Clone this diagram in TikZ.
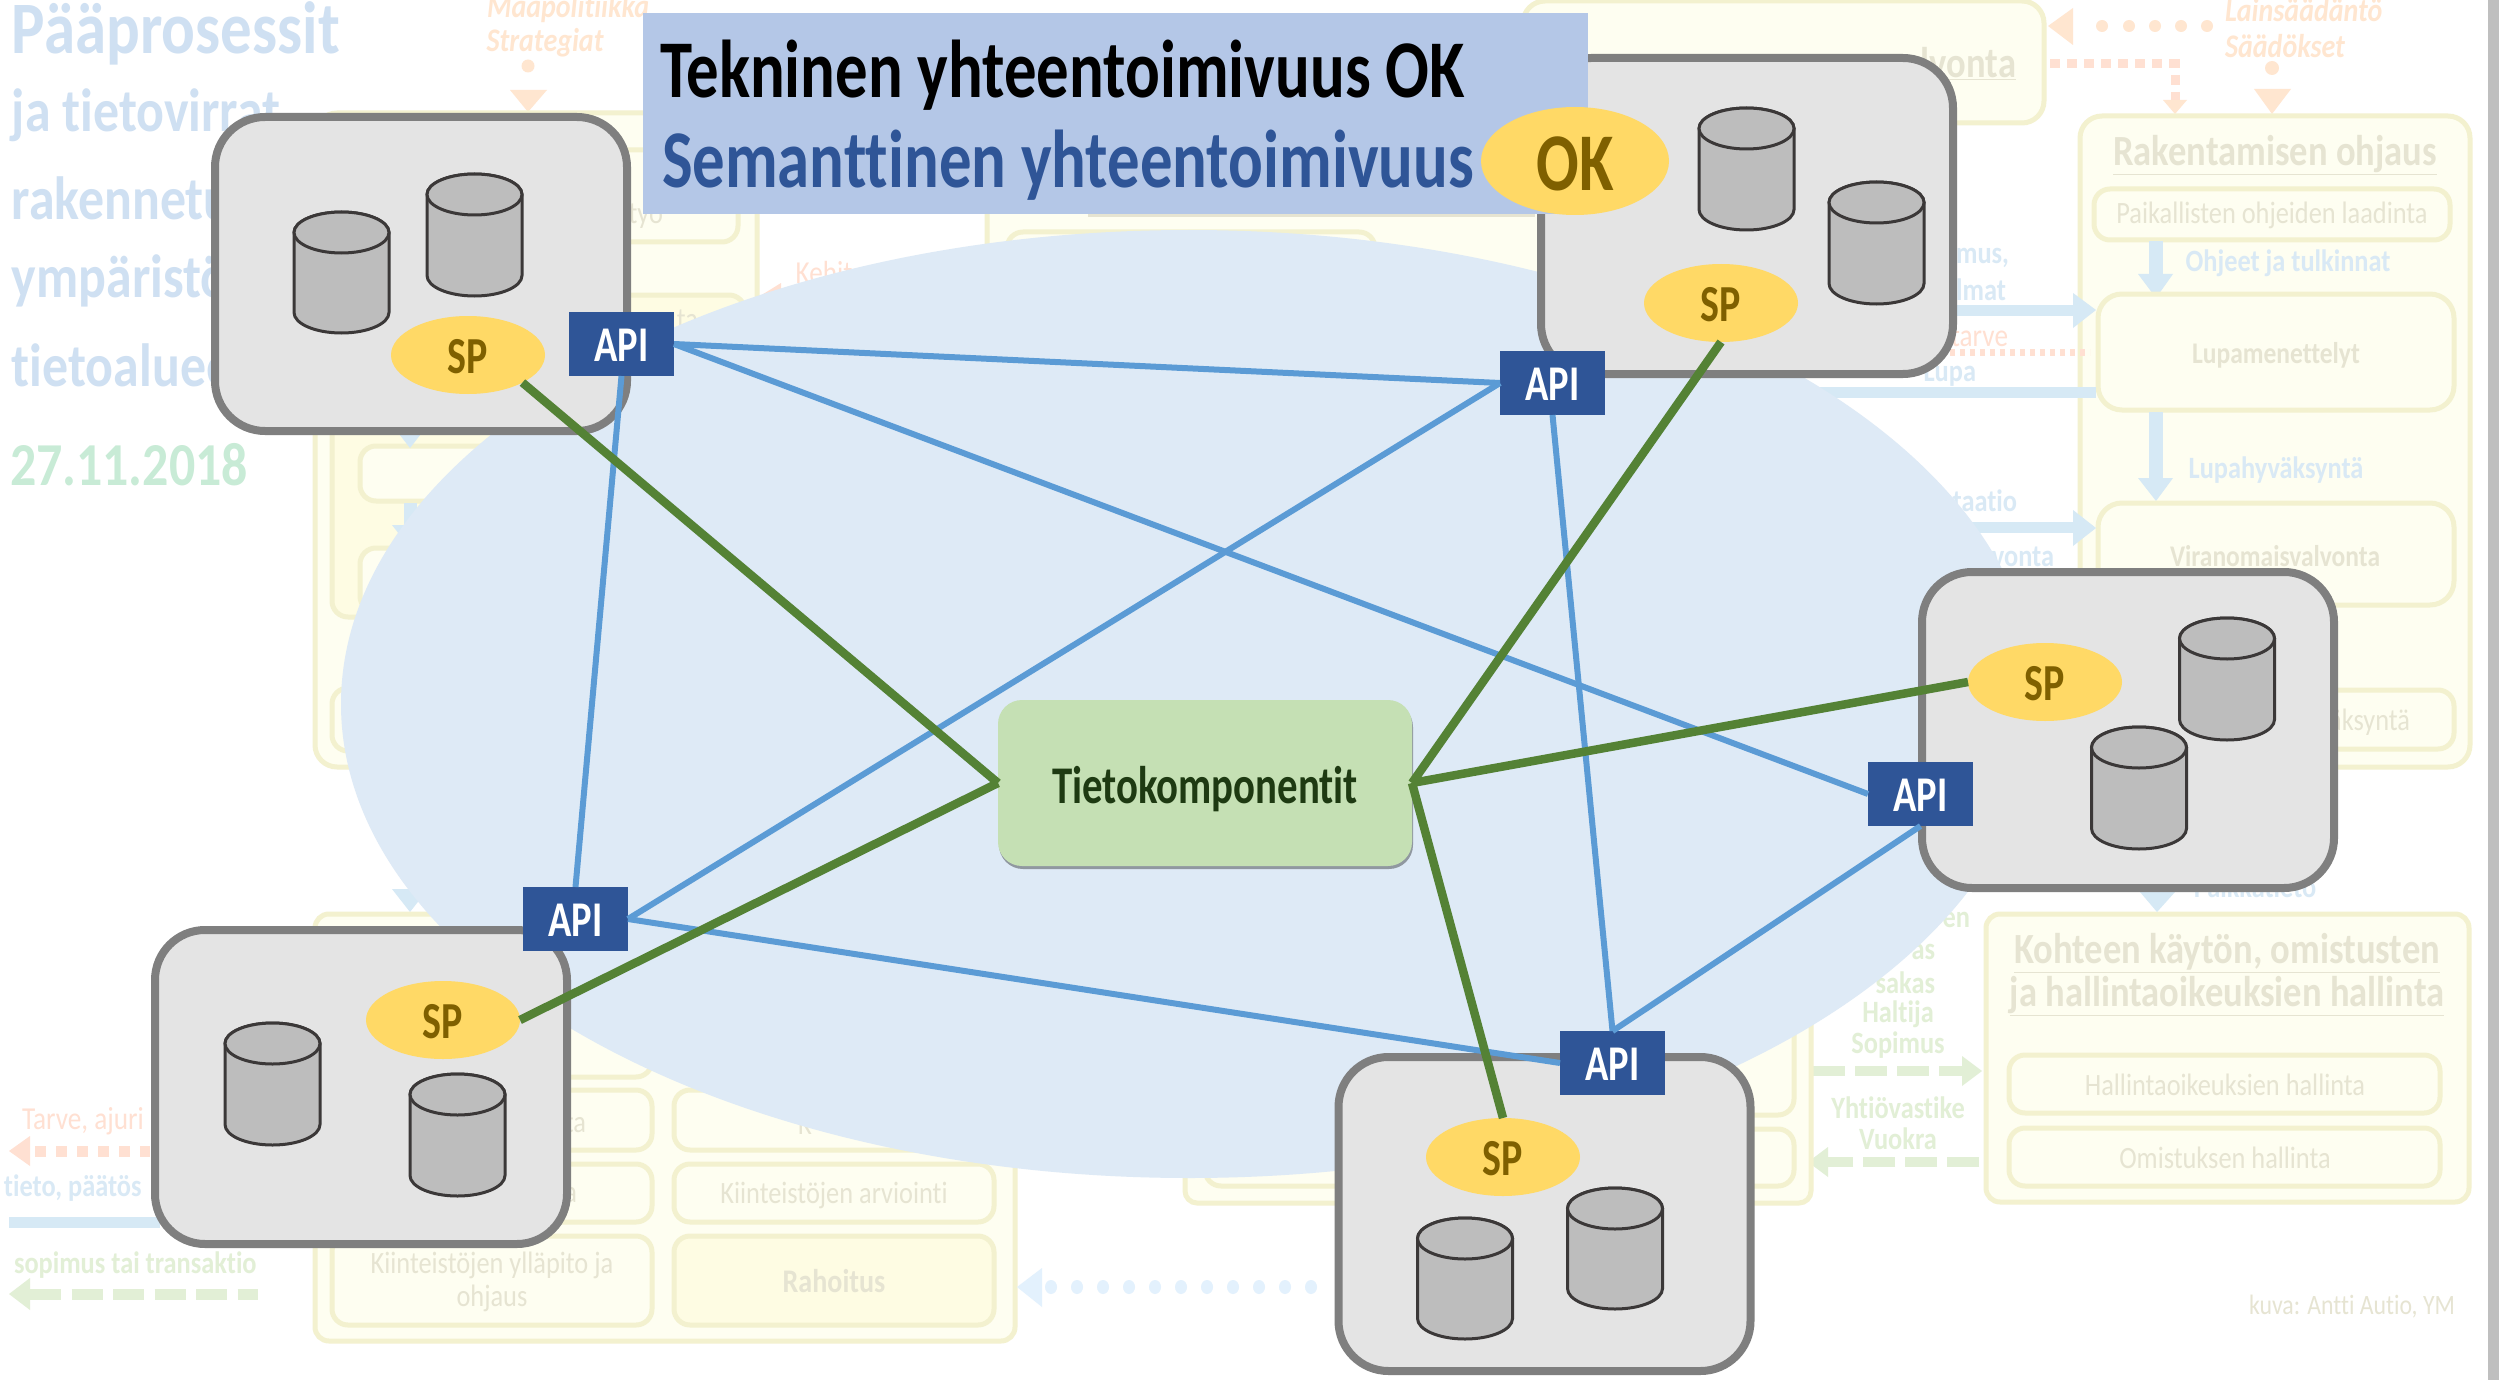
\documentclass[tikz,border=0pt]{standalone}
\usepackage{fontspec}
\setmainfont{Carlito}
\newfontfamily\nar[FakeStretch=0.85,Ligatures=NoCommon]{Carlito}
\newfontfamily\nart[FakeStretch=0.77,Ligatures=NoCommon]{Carlito}
\newfontfamily\nartt[FakeStretch=0.79,Ligatures=NoCommon]{Carlito}
\usetikzlibrary{shapes.geometric,shadows}
\definecolor{ybd}{HTML}{F3F1CF}
\definecolor{yfl}{HTML}{FEFEF1}
\definecolor{ydp}{HTML}{FEFCE3}
\definecolor{gtx}{HTML}{E6E4D2}
\definecolor{btx}{HTML}{D9E9F5}
\definecolor{ttl}{HTML}{CFE0F2}
\definecolor{dat}{HTML}{C8EBD6}
\definecolor{barb}{HTML}{D6E9F5}
\definecolor{dotb}{HTML}{E3F1FD}
\definecolor{grt}{HTML}{E2EFD6}
\definecolor{ort}{HTML}{FFE0D2}
\definecolor{orl}{HTML}{FFE6D0}
\definecolor{ell}{HTML}{DEEAF6}
\definecolor{sysf}{HTML}{E4E4E4}
\definecolor{sysd}{HTML}{7F7F7F}
\definecolor{apif}{HTML}{2F5597}
\definecolor{blu}{HTML}{5B9BD5}
\definecolor{grn}{HTML}{548235}
\definecolor{spf}{HTML}{FFD966}
\definecolor{spt}{HTML}{7F6000}
\definecolor{cylf}{HTML}{BDBDBD}
\definecolor{cyld}{HTML}{3B3838}
\definecolor{tkf}{HTML}{C5E0B4}
\definecolor{tkt}{HTML}{1E3A12}
\definecolor{ttb}{HTML}{B4C7E7}
\newcommand\fsz[1]{\fontsize{#1}{#1}\selectfont}
% cx, top y, width, total height
\newcommand\cyl[4]{%
  \pgfmathsetmacro\cxl{#1-#3/2}\pgfmathsetmacro\cxr{#1+#3/2}%
  \pgfmathsetmacro\cyt{#2+20.5}\pgfmathsetmacro\cyb{#2+#4-20.5}%
  \draw[fill=cylf,draw=cyld,line width=3pt] (\cxl,\cyt) -- (\cxl,\cyb) arc[start angle=180,end angle=0,x radius=#3/2,y radius=20.5] -- (\cxr,\cyt) arc[start angle=0,end angle=-180,x radius=#3/2,y radius=20.5] -- cycle;
  \draw[fill=cylf,draw=cyld,line width=3pt] (#1,\cyt) ellipse[x radius=#3/2,y radius=20.5];}
\tikzset{
  every node/.style={inner sep=0pt,outer sep=0pt},
  pale/.style={draw=ybd,fill=yfl,line width=5pt,rounded corners=16pt},
  deep/.style={draw=ybd,fill=ydp,line width=5pt,rounded corners=16pt},
  gt/.style={text=gtx,font=\nar\fsz{31}},
  gm/.style={text=gtx,font=\nar\bfseries\fsz{30}},
  gh/.style={text=gtx,font=\nar\bfseries\fsz{43}},
  bt/.style={text=btx,font=\nar\bfseries\fsz{31}},
  gr/.style={text=grt,font=\nar\bfseries\fsz{31}},
  ot/.style={text=ort,font=\nar\fsz{32}},
  ol/.style={text=orl,font=\nar\itshape\bfseries\fsz{33}},
  tl/.style={text=ttl,font=\nar\bfseries\fsz{61},anchor=west},
  sysbox/.style={draw=sysd,fill=sysf,line width=8pt,rounded corners=50pt,minimum width=412pt,minimum height=314pt},
  apibox/.style={fill=apif,text=white,font=\nart\bfseries\fsz{50},minimum width=105pt,minimum height=64pt,text height=35pt,text depth=0pt},
  spell/.style={ellipse,fill=spf,text=spt,font=\nart\bfseries\fsz{52},minimum width=154pt,minimum height=78pt,text height=37.5pt,text depth=0pt},
  bluel/.style={draw=blu,line width=6pt},
  grnl/.style={draw=grn,line width=8.5pt},
}
\begin{document}
\begin{tikzpicture}[x=1pt,y=-1pt]
\useasboundingbox (0,0) rectangle (2499,1380);
\fill[white] (0,0) rectangle (2499,1380);
\fill[black!25] (2488,0) rectangle (2499,1380);
% ---- faded background ----
\node[tl,font=\nar\bfseries\fsz{74}] (t1) at (12,33) {Pääprosessit};
\node[tl] (t2) at (12,115) {ja tietovirrat};
\node[tl] (t3) at (12,198) {rakennetun};
\node[tl] (t4) at (12,281) {ympäristön};
\node[tl] (t5) at (12,365) {tietoalueen};
\node[tl,text=dat] (t6) at (10,465) {27.11.2018};
\node[ol] (m1) at (568,9) {Maapolitiikka};
\node[ol] (m2) at (545,43) {Strategiat};
\fill[orl] (528,66) circle (6.5);
\fill[orl] (510,90) -- (547,90) -- (528,112) -- cycle;
% left process box
\draw[pale,rounded corners=22pt] (315,113) rectangle (757,767);
\draw[pale] (360,150) rectangle (738,242);
\node[gt,anchor=east] (b1t) at (663,216) {työ};
\draw[deep] (332,295) rectangle (745,617);
\node[gt,anchor=east] (b2t) at (698,320) {ta};
\draw[pale] (360,446) rectangle (720,501);
\draw[pale] (360,548) rectangle (720,612);
\draw[pale] (332,688) rectangle (720,751);
\fill[barb] (392,425) -- (428,425) -- (410,448) -- cycle;
\fill[barb] (404,503) rectangle (417,527);
\fill[barb] (392,525) -- (428,525) -- (410,548) -- cycle;
\fill[barb] (392,889) -- (428,889) -- (410,912) -- cycle;
% top centre box
\draw[pale,rounded corners=22pt] (987,120) rectangle (1800,700);
\draw[draw=gtx,line width=3pt] (1088,216) -- (1535,216);
\draw[pale] (1007,232) rectangle (1375,330);
% top right box
\draw[pale,rounded corners=22pt] (1523,1) rectangle (2044,123);
\node[gh,anchor=east] (v1) at (2016,64) {\underline{valvonta}};
\node[ot] (kh) at (824,273) {Kehit};
\fill[ort] (760,296) -- (781,283) -- (781,310) -- cycle;
% orange top right
\node[ol,anchor=west] (l1) at (2225,10) {Lainsäädäntö};
\node[ol,anchor=west] (l2) at (2225,46) {Säädökset};
\fill[orl] (2048,26) -- (2073,8) -- (2073,45) -- cycle;
\foreach \dx in {2102,2129,2155,2181,2207} \fill[orl] (\dx,26) circle (6);
\draw[ort,line width=9pt,dash pattern=on 10pt off 7pt] (2050,64) -- (2175,64) -- (2175,102);
\fill[orl] (2163,100) -- (2187,100) -- (2175,114) -- cycle;
\fill[orl] (2272,68) circle (7);
\fill[orl] (2254,89) -- (2291,89) -- (2272,114) -- cycle;
% Rakentamisen ohjaus
\draw[pale,rounded corners=22pt] (2080,116) rectangle (2470,767);
\node[gh] (r0) at (2275,155) {\underline{Rakentamisen ohjaus}};
\draw[pale] (2094,189) rectangle (2450,240);
\node[gt] (r1) at (2272,215) {Paikallisten ohjeiden laadinta};
\fill[barb] (2149,241) rectangle (2163,276);
\fill[barb] (2138,274) -- (2173,274) -- (2156,298) -- cycle;
\node[bt] (r2) at (2288,263) {Ohjeet ja tulkinnat};
\draw[pale,rounded corners=24pt] (2098,294) rectangle (2454,410);
\node[gm] (r3) at (2276,355) {Lupamenettelyt};
\fill[barb] (2149,412) rectangle (2163,480);
\fill[barb] (2138,478) -- (2173,478) -- (2156,501) -- cycle;
\node[bt] (r4) at (2276,470) {Lupahyväksyntä};
\draw[pale,rounded corners=24pt] (2098,503) rectangle (2454,605);
\node[gm] (r5) at (2275,556) {Viranomaisvalvonta};
\draw[pale] (2200,690) rectangle (2454,749);
\node[gt,anchor=east] (r6) at (2410,722) {hyväksyntä};
% arrows left of Rakentamisen
\node[bt,anchor=east] (a1) at (2009,258) {mus,};
\node[bt,anchor=east] (a2) at (2006,290) {lmat};
\fill[barb] (1900,305) rectangle (2075,316);
\fill[barb] (2073,293) -- (2096,310) -- (2073,328) -- cycle;
\node[ot,anchor=east] (a3) at (2008,336) {tarve};
\draw[ort,line width=7pt,dash pattern=on 5pt off 5pt] (1950,352) -- (2090,352);
\node[bt,anchor=east] (a4) at (1976,374) {Lupa};
\fill[barb] (1800,387) rectangle (2096,398);
\node[bt,anchor=east] (a5) at (2017,501) {taatio};
\fill[barb] (1950,522) rectangle (2075,533);
\fill[barb] (2073,510) -- (2096,528) -- (2073,546) -- cycle;
\node[bt,anchor=east] (a6) at (2054,557) {vonta};
% Kohteen
\draw[pale,rounded corners=14pt] (1986,914) rectangle (2469,1202);
\node[gh] (k1) at (2227,953) {\underline{Kohteen käytön, omistusten}};
\node[gh] (k2) at (2227,996) {\underline{ja hallintaoikeuksien hallinta}};
\draw[pale] (2009,1055) rectangle (2440,1113);
\node[gt] (k3) at (2225,1085) {Hallintaoikeuksien hallinta};
\draw[pale] (2009,1128) rectangle (2440,1186);
\node[gt] (k4) at (2225,1158) {Omistuksen hallinta};
\fill[barb] (2140,892) -- (2175,892) -- (2157,912) -- cycle;
\node[bt] (k5) at (2255,887) {Paikkatieto};
\node[gt,font=\nar\fsz{28}] (k6) at (2352,1307) {kuva: Antti Autio, YM};
% green labels and arrows
\node[gr,anchor=east] (g1) at (1970,920) {en};
\node[gr,anchor=east] (g2) at (1935,952) {as};
\node[gr,anchor=east] (g3) at (1935,983) {sakas};
\node[gr] (g4) at (1898,1014) {Haltija};
\node[gr] (g5) at (1898,1045) {Sopimus};
\node[gr] (g6) at (1898,1108) {Yhtiövastike};
\node[gr] (g7) at (1898,1139) {Vuokra};
\draw[grt,line width=10.5pt,dash pattern=on 32pt off 10pt] (1813,1071) -- (1964,1071);
\fill[grt] (1962,1056) -- (1982,1071) -- (1962,1086) -- cycle;
\draw[grt,line width=10.5pt,dash pattern=on 32pt off 10pt] (1979,1162) -- (1826,1162);
\fill[grt] (1808,1162) -- (1828,1147) -- (1828,1177) -- cycle;
% middle bottom box
\draw[pale,rounded corners=12pt] (1185,900) rectangle (1811,1203);
\draw[pale] (1205,950) rectangle (1794,1115);
\draw[pale] (1205,1129) rectangle (1794,1186);
% bottom left box
\draw[pale,rounded corners=14pt] (315,914) rectangle (1015,1341);
\draw[pale] (332,1020) rectangle (652,1077);
\draw[pale] (332,1090) rectangle (652,1150);
\draw[pale] (332,1164) rectangle (652,1222);
\draw[pale] (332,1236) rectangle (652,1325);
\draw[pale] (674,1090) rectangle (994,1150);
\draw[pale] (674,1164) rectangle (994,1222);
\draw[deep] (674,1236) rectangle (994,1325);
\node[gt,anchor=east] (c1) at (586,1123) {ta};
\node[gt,anchor=east] (c2) at (577,1195) {a};
\node[gt] (c3) at (834,1195) {Kiinteistöjen arviointi};
\node[gt,align=center] (c4) at (492,1282) {Kiinteistöjen ylläpito ja\\[2pt]ohjaus};
\node[gt,font=\nar\bfseries\fsz{33}] (c5) at (834,1281) {Rahoitus};
\node[gt] (c6) at (805,1125) {K};
\fill[dotb] (1017,1287) -- (1042,1268) -- (1042,1307) -- cycle;
\foreach \dx in {1051,1077,1103,1129,1155,1181,1207,1233,1259,1285,1311} \fill[dotb] (\dx,1287) ellipse[x radius=6,y radius=7];
% legend
\node[ot,anchor=west] (n1) at (22,1121) {Tarve, ajuri};
\fill[ort] (9,1151) -- (30,1136) -- (30,1166) -- cycle;
\draw[ort,line width=11pt,dash pattern=on 11pt off 10pt] (35,1151) -- (150,1151);
\node[bt,anchor=west] (n2) at (4,1188) {tieto, päätös};
\fill[barb] (9,1217) rectangle (160,1228);
\node[gr,anchor=west] (n3) at (14,1265) {sopimus tai transaktio};
\fill[grt] (9,1294) -- (30,1278) -- (30,1310) -- cycle;
\draw[grt,line width=11pt,dash pattern=on 31pt off 10.5pt] (30,1294) -- (258,1294);
% ---- foreground ----
\node[ellipse,fill=ell,minimum width=1696pt,minimum height=948pt] (cloud) at (1189,704) {};
\node[sysbox] (b1) at (421,274) {};
\node[sysbox,minimum height=316pt] (b2) at (1747,216) {};
\node[sysbox,minimum height=316pt] (b3) at (2128,730) {};
\node[sysbox] (b4) at (1544.5,1214) {};
\node[sysbox] (b5) at (361,1087) {};
\cyl{341.5}{212}{95}{121}
\cyl{474.5}{174}{95}{122}
\cyl{1746.5}{108}{95}{122}
\cyl{1876.5}{182}{95}{122}
\cyl{2227}{618}{95}{122}
\cyl{2139}{727}{95}{122}
\cyl{1465}{1218}{95}{121}
\cyl{1615}{1188}{95}{121}
\cyl{272.5}{1023}{95}{122}
\cyl{457.5}{1074}{95}{122}
\node[fill=ttb,minimum width=945pt,minimum height=201pt] (ttlbox) at (1115.5,113.5) {};
\node[anchor=west,font=\nartt\bfseries\fsz{82}] (tl1) at (660,75) {Tekninen yhteentoimivuus OK};
\node[anchor=west,text=apif,font=\nartt\bfseries\fsz{82}] (tl2) at (662,165) {Semanttinen yhteentoimivuus};
\node[ellipse,fill=spf,text=spt,font=\nart\bfseries\fsz{82},minimum width=188pt,minimum height=108pt,text height=60pt,text depth=0pt] (okk) at (1575,161) {OK};
\node[draw=none,fill=tkf,rounded corners=24pt,minimum width=414pt,minimum height=166pt,text=tkt,font=\nart\bfseries\fsz{53},text height=40pt,text depth=0pt,drop shadow={shadow xshift=1pt,shadow yshift=-3pt,opacity=.35,fill=black}] (tk) at (1205,783) {Tietokomponentit};
\node[apibox] (api1) at (621.5,344) {API};
\node[apibox] (api2) at (1552.5,383) {API};
\node[apibox] (api3) at (1920.5,794) {API};
\node[apibox] (api4) at (1612.5,1063) {API};
\node[apibox] (api5) at (575.5,919) {API};
\node[spell] (sp1) at (468,355) {SP};
\node[spell] (sp2) at (1721,303) {SP};
\node[spell] (sp3) at (2045,682) {SP};
\node[spell] (sp4) at (1503,1157) {SP};
\node[spell] (sp5) at (443,1020) {SP};
\draw[bluel] (api1.east) -- (api2.west);
\draw[bluel] (api1.east) -- (api3.west);
\draw[bluel] (api1.south) -- (api5.north);
\draw[bluel] (api2.west) -- (api5.east);
\draw[bluel] (api2.south) -- (api4.north);
\draw[bluel] (api3.south) -- (api4.north);
\draw[bluel] (api5.east) -- (api4.west);
\draw[grnl] (sp1.south east) -- (tk.west);
\draw[grnl] (sp2.south) -- (tk.east);
\draw[grnl] (sp3.west) -- (tk.east);
\draw[grnl] (sp4.north) -- (tk.east);
\draw[grnl] (sp5.east) -- (tk.west);
\end{tikzpicture}
\end{document}
